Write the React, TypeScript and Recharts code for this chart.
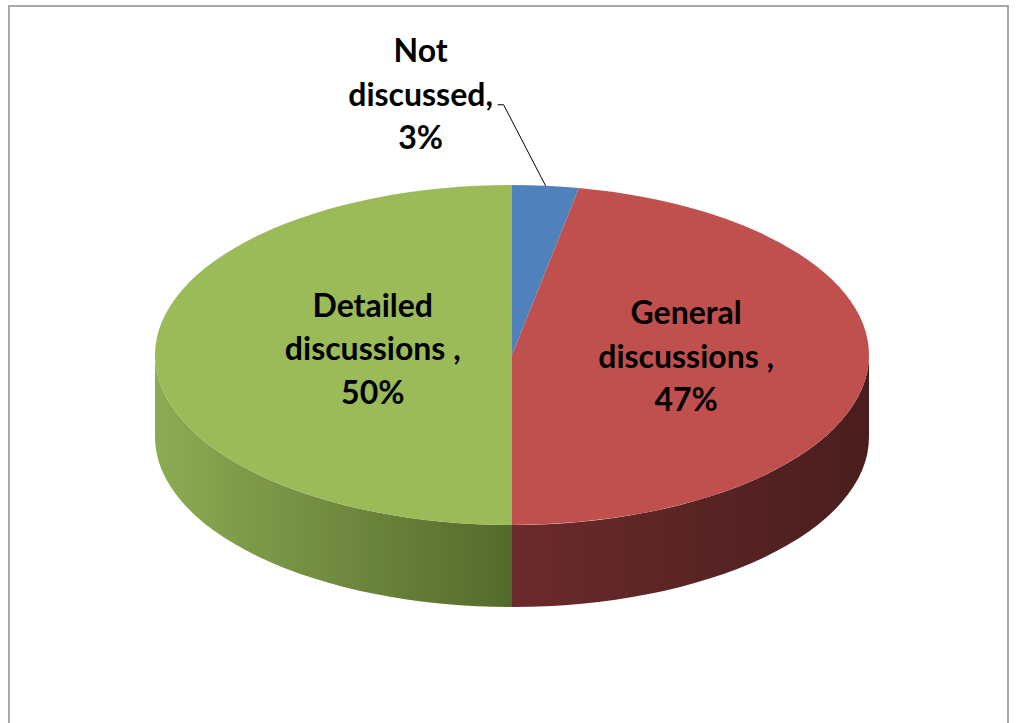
import { PieChart, Pie, Cell } from 'recharts';

// slice names as Excel printed them (trailing space kept) and their shares in %
const CATEGORIES = ['Not discussed', 'General discussions ', 'Detailed discussions '];
const SHARES = [3, 47, 50];

const TOP_COLORS = ['#4f81bd', '#c0504d', '#9bbb59'];
const SIDE_COLORS = [
  ['#3e6696', '#2d4b70'],
  ['#6b2a2b', '#4a1e1e'],
  ['#8dab53', '#546a2c'],
];

const data = CATEGORIES.map((name, i) => ({ name, value: SHARES[i] }));

const FLAT = 170 / 357; // vertical squash of the disc
const DEPTH = 82;
const FONT = 'Lato, "Open Sans", sans-serif';

const pt = (cx: number, cy: number, rx: number, ry: number, deg: number) => {
  const r = (deg * Math.PI) / 180;
  return [cx + rx * Math.cos(r), cy - ry * Math.sin(r)];
};

function Slice3D(props: any) {
  const { cx, cy, outerRadius, startAngle, endAngle, name } = props;
  const idx = CATEGORIES.indexOf(name ?? props.payload?.name);
  const rx = outerRadius;
  const ry = outerRadius * FLAT;
  const hi = Math.max(startAngle, endAngle);
  const lo = Math.min(startAngle, endAngle);

  // top face, split in two arcs so a half slice has no ambiguous arc
  const mid = (hi + lo) / 2;
  const [x1, y1] = pt(cx, cy, rx, ry, hi);
  const [xm, ym] = pt(cx, cy, rx, ry, mid);
  const [x2, y2] = pt(cx, cy, rx, ry, lo);
  const top = `M${cx},${cy} L${x1},${y1} A${rx},${ry} 0 0 1 ${xm},${ym} A${rx},${ry} 0 0 1 ${x2},${y2} Z`;

  // front wall: the part of the rim facing the viewer (angles -180..0)
  const walls: string[] = [];
  for (let k = -1; k <= 1; k++) {
    const a = Math.min(hi, 360 * k);
    const b = Math.max(lo, -180 + 360 * k);
    if (a > b) {
      const [ax, ay] = pt(cx, cy, rx, ry, a);
      const [bx, by] = pt(cx, cy, rx, ry, b);
      walls.push(
        `M${ax},${ay} A${rx},${ry} 0 0 1 ${bx},${by} L${bx},${by + DEPTH} A${rx},${ry} 0 0 0 ${ax},${ay + DEPTH} Z`
      );
    }
  }
  const gid = `side-${idx}`;
  const side = SIDE_COLORS[idx] ?? ['#777', '#555'];

  return (
    <g>
      <defs>
        <linearGradient id={gid} x1="0" y1="0" x2="1" y2="0">
          <stop offset="0%" stopColor={side[0]} />
          <stop offset="100%" stopColor={side[1]} />
        </linearGradient>
      </defs>
      {walls.map((d, i) => (
        <path key={i} d={d} fill={`url(#${gid})`} stroke="none" />
      ))}
      <path d={top} fill={TOP_COLORS[idx]} stroke="none" />
    </g>
  );
}

const LABEL_RADIUS: Record<string, number> = {
  'General discussions ': 0.49,
  'Detailed discussions ': 0.39,
};

function renderLabel(props: any) {
  const { cx, cy, midAngle, outerRadius, name, value } = props;
  const rx = outerRadius;
  const ry = outerRadius * FLAT;
  const text = `${name},`;
  const cut = text.indexOf(' ');
  const lines = [text.slice(0, cut), text.slice(cut + 1), `${value}%`];
  const lineGap = 43.5;

  if (value < 5) {
    const [ex, ey] = pt(cx, cy, rx, ry, midAngle);
    const elbowX = ex - 42;
    const elbowY = ey - 81;
    const tx = elbowX - 83;
    return (
      <g>
        <polyline
          points={`${ex},${ey} ${elbowX},${elbowY} ${elbowX - 6},${elbowY}`}
          fill="none"
          stroke="#000"
          strokeWidth={1}
        />
        {lines.map((l, i) => (
          <text
            key={i}
            x={tx}
            y={elbowY + 1 + (i - 1) * lineGap}
            textAnchor="middle"
            fontFamily={FONT}
            fontWeight={700}
            fontSize={32}
            fill="#000"
          >
            {l}
          </text>
        ))}
      </g>
    );
  }

  const k = LABEL_RADIUS[name] ?? 0.45;
  const [px, py0] = pt(cx, cy, rx * k, ry * k, midAngle);
  const py = py0 - 6;
  return (
    <g>
      {lines.map((l, i) => (
        <text
          key={i}
          x={px}
          y={py + 11 + (i - 1) * lineGap}
          textAnchor="middle"
          fontFamily={FONT}
          fontWeight={700}
          fontSize={32}
          fill="#000"
        >
          {l}
        </text>
      ))}
    </g>
  );
}

export default function App() {
  return (
    <div style={{ position: 'absolute', left: 0, top: 0, width: 1017, height: 723, background: '#fff', overflow: 'hidden' }}>
      <div
        style={{
          position: 'absolute',
          left: 8,
          top: 5,
          width: 1001,
          height: 740,
          border: '2px solid #a8a8a8',
          boxSizing: 'border-box',
        }}
      />
      <div style={{ position: 'absolute', left: 0, top: 0 }}>
        <PieChart width={1017} height={723} margin={{ top: 0, right: 0, bottom: 0, left: 0 }}>
          <Pie
            data={data}
            dataKey="value"
            nameKey="name"
            cx={512}
            cy={355}
            outerRadius={357}
            startAngle={90}
            endAngle={-270}
            stroke="none"
            shape={Slice3D}
            label={renderLabel}
            labelLine={false}
            isAnimationActive={false}
          >
            {data.map((d, i) => (
              <Cell key={d.name} fill={TOP_COLORS[i]} />
            ))}
          </Pie>
        </PieChart>
      </div>
    </div>
  );
}
